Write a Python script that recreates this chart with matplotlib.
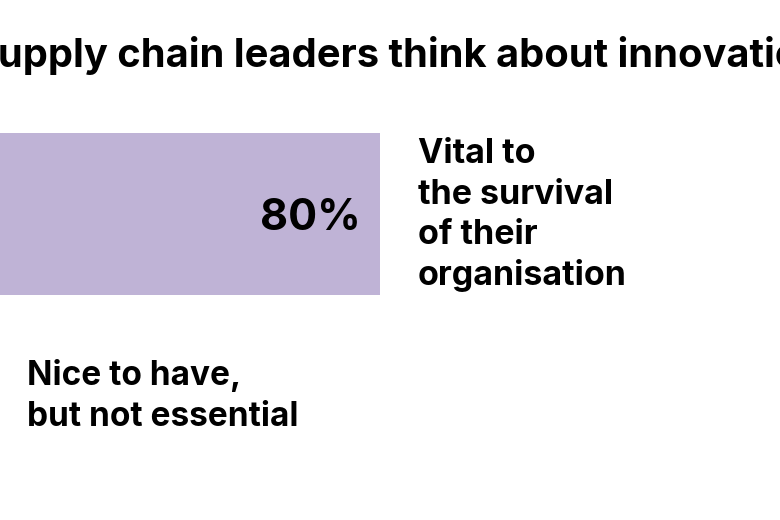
import matplotlib
matplotlib.use("Agg")
import matplotlib.pyplot as plt

# -- data
title = "How supply chain leaders think about innovation"
categories = ["Vital to\nthe survival\nof their\norganisation"]
values = [80]
value_labels = ["80%"]
other_label = "Nice to have,\nbut not essential"

bar_colour = "#BFB3D6"
font = "Inter"

fig = plt.figure(figsize=(7.8, 5.2), dpi=100)
ax = fig.add_axes([0, 0, 1, 1])

# bar spans rows 133..295 of 520, 80% reaches x=380 of 780
ax.barh([0], values, height=1.0, color=bar_colour, align="center")
ax.set_xlim(0, 80 * 780 / 380)
ax.set_ylim(-0.5 - 225 / 162, 0.5 + 133 / 162)
ax.axis("off")

for v, lab, cat in zip(values, value_labels, categories):
    ax.annotate(lab, xy=(v, 0), xytext=(-14, -3), textcoords="offset points",
                ha="right", va="center", fontsize=31, fontweight="bold",
                family=font)
    ax.annotate(cat, xy=(v, 0), xytext=(27, -1), textcoords="offset points",
                ha="left", va="center", fontsize=24.5, fontweight="bold",
                family=font, linespacing=1.33)

fig.text(27 / 780, 1 - 359 / 520, other_label, ha="left", va="top",
         fontsize=24, fontweight="bold", family=font, linespacing=1.38)

fig.text(824 / 780, 1 - 67 / 520, title, ha="right", va="baseline",
         fontsize=28.7, fontweight="bold", family=font)

fig.savefig("out.png", dpi=100)
